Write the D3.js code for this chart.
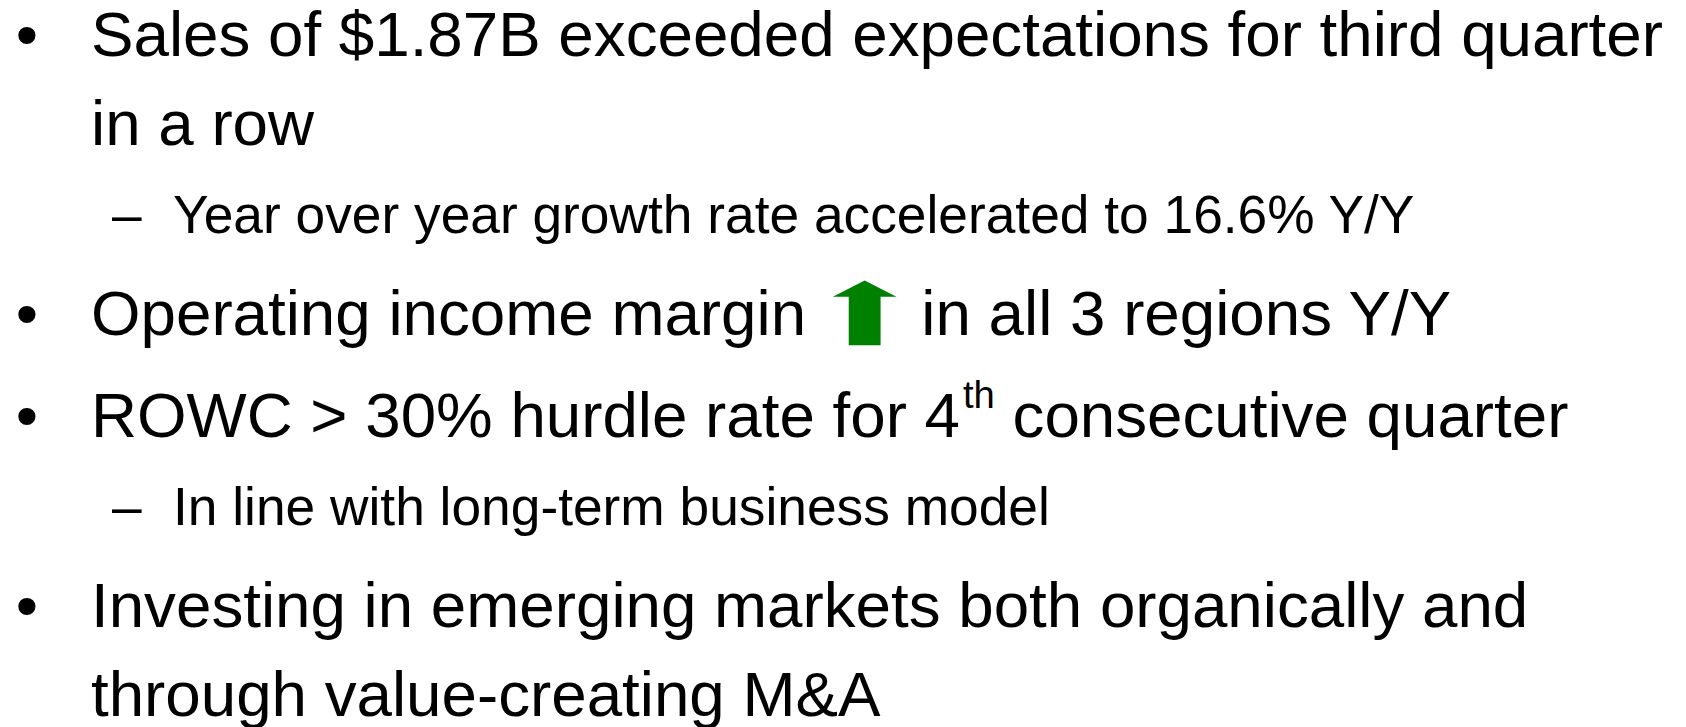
<!DOCTYPE html>
<html>
<head>
<meta charset="utf-8">
<script src="https://cdn.jsdelivr.net/npm/d3@7"></script>
<style>
  html, body { margin: 0; padding: 0; background: #fff; }
  svg { display: block; font-family: "Liberation Sans", Arial, sans-serif; }
  svg text { white-space: pre; }
</style>
</head>
<body>
<div id="chart"></div>
<script>
'use strict';

// slide content: one entry per paragraph, {up} = green arrow, {th} = superscript
const bulletLevels = [0, 1, 0, 0, 1, 0];
const bulletTexts = [
  'Sales of $1.87B exceeded expectations for third quarter in a row',
  'Year over year growth rate accelerated to 16.6% Y/Y',
  'Operating income margin {up} in all 3 regions Y/Y',
  'ROWC > 30% hurdle rate for 4{th} consecutive quarter',
  'In line with long-term business model',
  'Investing in emerging markets both organically and through value-creating M&A',
];
const bulletMarks = ['\u2022', '\u2013'];
const superscripts = { '{th}': 'th' };

const width = 1686;
const height = 727;
const rightEdge = 1680;

// per-level layout
const levels = [0, 1];
const fontSize = d3.scaleOrdinal().domain(levels).range([63.7, 53.3]);
const markX = d3.scaleOrdinal().domain(levels).range([27, 112]);
const markAnchor = d3.scaleOrdinal().domain(levels).range(['middle', 'start']);
const textX = d3.scaleOrdinal().domain(levels).range([91, 173]);
const spaceBefore = d3.scaleOrdinal().domain(levels).range([102, 88]);
const firstBaseline = 56;
const lineStep = 89;

const svg = d3.select('#chart').append('svg')
  .attr('width', width)
  .attr('height', height);

svg.append('rect')
  .attr('width', width)
  .attr('height', height)
  .attr('fill', '#fff');

function textWidth(str, fs) {
  const t = svg.append('text').attr('font-size', fs).text(str);
  const w = t.node().getComputedTextLength();
  t.remove();
  return w;
}

function wrap(text, level) {
  const fs = fontSize(level);
  const maxW = rightEdge - textX(level);
  const words = text.split(' ');
  const lines = [];
  let cur = '';
  words.forEach(w => {
    const test = cur ? `${cur} ${w}` : w;
    const plain = test.replace(/\{up\}/g, 'MM').replace(/\{th\}/g, 'th');
    if (cur && textWidth(plain, fs) > maxW) {
      lines.push(cur);
      cur = w;
    } else {
      cur = test;
    }
  });
  lines.push(cur);
  return lines;
}

function drawArrow(g, x0, base, fs) {
  const cx = x0 + fs / 2;
  const p = d3.path();
  p.moveTo(cx, base - 0.855 * fs);
  p.lineTo(x0 + fs, base - 0.6 * fs);
  p.lineTo(cx + 0.25 * fs, base - 0.6 * fs);
  p.lineTo(cx + 0.25 * fs, base + 0.16 * fs);
  p.lineTo(cx - 0.25 * fs, base + 0.16 * fs);
  p.lineTo(cx - 0.25 * fs, base - 0.6 * fs);
  p.lineTo(x0, base - 0.6 * fs);
  p.closePath();
  g.append('path').attr('d', p.toString()).attr('fill', '#008000');
}

function drawLine(g, line, level, y) {
  const fs = fontSize(level);
  let x = textX(level);
  const parts = line.split(/( ?\{up\} ?|\{th\})/).filter(p => p !== '');
  parts.forEach(p => {
    if (p.trim() === '{up}') {
      x += 0.42 * fs;
      drawArrow(g, x, y, fs);
      x += fs + 0.39 * fs;
    } else if (superscripts[p]) {
      const t = g.append('text')
        .attr('x', x + 3)
        .attr('y', y - 0.45 * fs)
        .attr('font-size', 0.6 * fs)
        .attr('fill', '#000')
        .text(superscripts[p]);
      x += 3 + t.node().getComputedTextLength();
    } else {
      const t = g.append('text')
        .attr('x', x)
        .attr('y', y)
        .attr('font-size', fs)
        .attr('fill', '#000')
        .text(p);
      x += t.node().getComputedTextLength();
    }
  });
}

const g = svg.append('g');
let y = firstBaseline;

bulletTexts.forEach((text, i) => {
  const level = bulletLevels[i];
  if (i > 0) y += spaceBefore(level);

  g.append('text')
    .attr('x', markX(level))
    .attr('y', y)
    .attr('font-size', fontSize(level))
    .attr('text-anchor', markAnchor(level))
    .attr('fill', '#000')
    .text(bulletMarks[level]);

  wrap(text, level).forEach((line, j) => {
    if (j > 0) y += lineStep;
    drawLine(g, line, level, y);
  });
});
</script>
</body>
</html>
